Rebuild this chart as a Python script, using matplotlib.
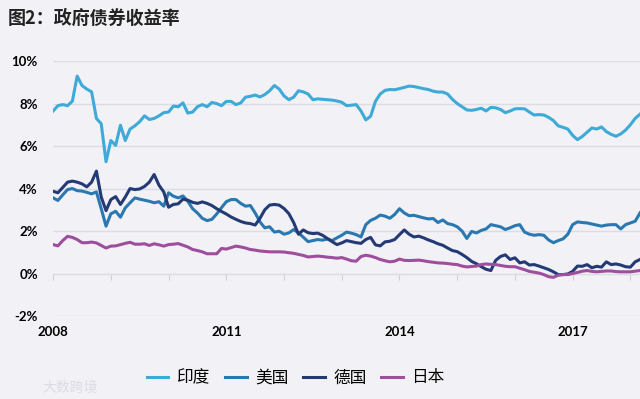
import numpy as np
import matplotlib
matplotlib.use("Agg")
import matplotlib.pyplot as plt

plt.rcParams['font.family'] = ['Noto Sans CJK SC', 'DejaVu Sans']

# monthly 10y government bond yields (%), Jan 2008 - Mar 2018
india = [
    7.65, 7.9, 7.95, 7.9, 8.11, 9.29, 8.85, 8.68, 8.55, 7.3, 7.05, 5.26,
    6.26, 6.03, 6.98, 6.26, 6.8, 6.95, 7.15, 7.42, 7.25, 7.3, 7.42, 7.57,
    7.6, 7.88, 7.85, 8.03, 7.55, 7.6, 7.85, 7.95, 7.85, 8.05, 8.0, 7.9,
    8.1, 8.1, 7.95, 8.03, 8.3, 8.34, 8.4, 8.31, 8.42, 8.6, 8.85, 8.68,
    8.36, 8.18, 8.3, 8.6, 8.55, 8.45, 8.18, 8.22, 8.2, 8.18, 8.16, 8.12,
    8.06, 7.9, 7.92, 7.95, 7.65, 7.23, 7.4, 8.1, 8.45, 8.62, 8.66, 8.65,
    8.7, 8.76, 8.82, 8.8, 8.75, 8.7, 8.66, 8.58, 8.54, 8.54, 8.45, 8.2,
    8.0, 7.85, 7.7, 7.68, 7.72, 7.78, 7.65, 7.82, 7.8, 7.72, 7.57, 7.65,
    7.75, 7.76, 7.75, 7.6, 7.46, 7.48, 7.46, 7.35, 7.2, 6.95, 6.88, 6.8,
    6.5, 6.3, 6.45, 6.65, 6.85, 6.8, 6.9, 6.68, 6.55, 6.46, 6.57, 6.75,
    7.0, 7.3, 7.5,
]
usa = [
    3.56, 3.44, 3.7, 3.95, 4.0, 3.9, 3.88, 3.82, 3.75, 3.84, 3.05, 2.23,
    2.81, 2.93, 2.65, 3.09, 3.33, 3.56, 3.5, 3.45, 3.4, 3.33, 3.38, 3.17,
    3.8, 3.64, 3.56, 3.65, 3.4, 3.05, 2.85, 2.6, 2.49, 2.55, 2.8, 3.1,
    3.38, 3.48, 3.48, 3.3, 3.17, 3.2, 2.85, 2.43, 2.15, 2.2, 1.95, 1.99,
    1.85, 1.91, 2.07, 1.91, 1.71, 1.5, 1.55, 1.6, 1.57, 1.62, 1.55, 1.68,
    1.8, 1.95, 1.9, 1.83, 1.72, 2.3, 2.5, 2.6, 2.75, 2.7, 2.6, 2.78,
    3.05, 2.85, 2.72, 2.74, 2.68, 2.62, 2.57, 2.59, 2.4, 2.52, 2.35, 2.3,
    2.2, 2.0, 1.65, 1.98, 1.91, 2.03, 2.1, 2.3, 2.25, 2.2, 2.07, 2.15,
    2.25, 2.3, 1.95, 1.85, 1.8, 1.83, 1.8, 1.58, 1.45, 1.55, 1.63, 1.85,
    2.3, 2.43, 2.4, 2.38, 2.33, 2.28, 2.23, 2.28, 2.3, 2.3, 2.1, 2.3,
    2.38, 2.46, 2.85,
]
germany = [
    3.87, 3.8, 4.05, 4.3, 4.35, 4.3, 4.22, 4.08, 4.3, 4.82, 3.6, 2.96,
    3.48, 3.62, 3.25, 3.6, 4.0, 3.95, 3.98, 4.1, 4.3, 4.66, 4.16, 3.84,
    3.12, 3.25, 3.28, 3.5, 3.45, 3.35, 3.3, 3.37, 3.3, 3.2, 3.05, 2.92,
    2.8, 2.66, 2.55, 2.45, 2.38, 2.35, 2.28, 2.6, 3.0, 3.22, 3.25, 3.22,
    3.06, 2.82, 2.4, 1.85, 2.05, 1.92, 1.88, 1.9, 1.8, 1.65, 1.5, 1.36,
    1.44, 1.55, 1.5, 1.45, 1.42, 1.6, 1.7, 1.35, 1.3, 1.49, 1.52, 1.6,
    1.83, 2.05, 1.85, 1.72, 1.76, 1.68, 1.58, 1.5, 1.4, 1.33, 1.2, 1.08,
    1.03, 0.9, 0.75, 0.57, 0.46, 0.32, 0.2, 0.14, 0.62, 0.8, 0.88, 0.66,
    0.74, 0.5, 0.55, 0.4, 0.42, 0.35, 0.27, 0.19, 0.08, -0.05, -0.05, -0.02,
    0.1, 0.35, 0.34, 0.42, 0.27, 0.34, 0.3, 0.55, 0.42, 0.45, 0.4, 0.32,
    0.3, 0.55, 0.66,
]
japan = [
    1.36, 1.3, 1.55, 1.75, 1.7, 1.6, 1.45, 1.45, 1.48, 1.44, 1.32, 1.2,
    1.29, 1.3, 1.36, 1.42, 1.47, 1.38, 1.38, 1.4, 1.32, 1.4, 1.35, 1.29,
    1.36, 1.38, 1.41, 1.33, 1.25, 1.13, 1.08, 1.02, 0.93, 0.93, 0.93, 1.18,
    1.15, 1.22, 1.29, 1.25, 1.2, 1.13, 1.1, 1.06, 1.04, 1.02, 1.02, 1.02,
    1.01, 0.98, 0.95, 0.9, 0.85, 0.78, 0.8, 0.82, 0.8, 0.77, 0.75, 0.72,
    0.75, 0.68, 0.6, 0.58, 0.8, 0.86, 0.82, 0.75, 0.66, 0.6, 0.55, 0.58,
    0.68, 0.62, 0.61, 0.62, 0.63, 0.6, 0.56, 0.53, 0.5, 0.49, 0.47, 0.44,
    0.42, 0.35, 0.31, 0.33, 0.35, 0.42, 0.45, 0.43, 0.42, 0.38, 0.34, 0.32,
    0.32, 0.25, 0.18, 0.1, 0.06, 0.02, -0.05, -0.15, -0.18, -0.08, -0.05, -0.05,
    0.0, 0.05, 0.11, 0.14, 0.1, 0.08, 0.1, 0.12, 0.12, 0.09, 0.08, 0.08,
    0.08, 0.11, 0.14,
]
names = ['印度', '美国', '德国', '日本']
colors = ['#3fa9d8', '#2a78b0', '#233a74', '#9d4e9c']
year_labels = [2008, 2011, 2014, 2017]

months = 2008 + np.arange(len(india)) / 12.0
bg = '#f2f1f6'

fig = plt.figure(figsize=(6.4, 3.99), dpi=100, facecolor=bg)
ax = fig.add_axes([0.083, 0.208, 0.917, 0.639], facecolor=bg)

for vals, name, c in zip([india, usa, germany, japan], names, colors):
    ax.plot(months, vals, color=c, lw=2.2, label=name, solid_joinstyle='round')

ax.set_xlim(months[0], months[-1])
ax.set_ylim(-2, 10)
ax.set_yticks(range(-2, 11, 2))
ax.set_yticklabels([f'{v}%' for v in range(-2, 11, 2)])
ax.set_xticks(year_labels)
ax.set_xticklabels([str(y) for y in year_labels])
ax.grid(axis='y', color='#dcdce2', lw=1)
ax.set_axisbelow(True)
for s in ax.spines.values():
    s.set_visible(False)
ax.tick_params(axis='both', length=0, labelsize=9.5)
ax.tick_params(axis='y', pad=11)
ax.tick_params(axis='x', pad=7)
for lab in ax.get_xticklabels() + ax.get_yticklabels():
    lab.set_fontfamily(['Lato', 'DejaVu Sans'])
    lab.set_fontweight('bold')

# year ticks along the 0% line
sec = ax.secondary_xaxis(2 / 12)
sec.set_xticks(range(2008, 2019))
sec.set_xticklabels([])
sec.tick_params(axis='x', length=4, color='#cfcfd6', direction='out')
sec.spines['bottom'].set_color('#d6d6dc')

fig.text(0.012, 0.955, '图2：政府债券收益率', fontsize=13, fontweight='bold',
         va='center', ha='left', color='#222222')

fig.legend(loc='center', bbox_to_anchor=(0.462, 0.053), ncol=4, frameon=False,
           handlelength=1.3, handletextpad=0.5, columnspacing=0.9,
           prop={'size': 12})

fig.text(0.11, 0.028, '大数跨境', fontsize=10, color='#dcdce4', ha='center',
         va='center')

fig.savefig('out.png', dpi=100, facecolor=bg)
